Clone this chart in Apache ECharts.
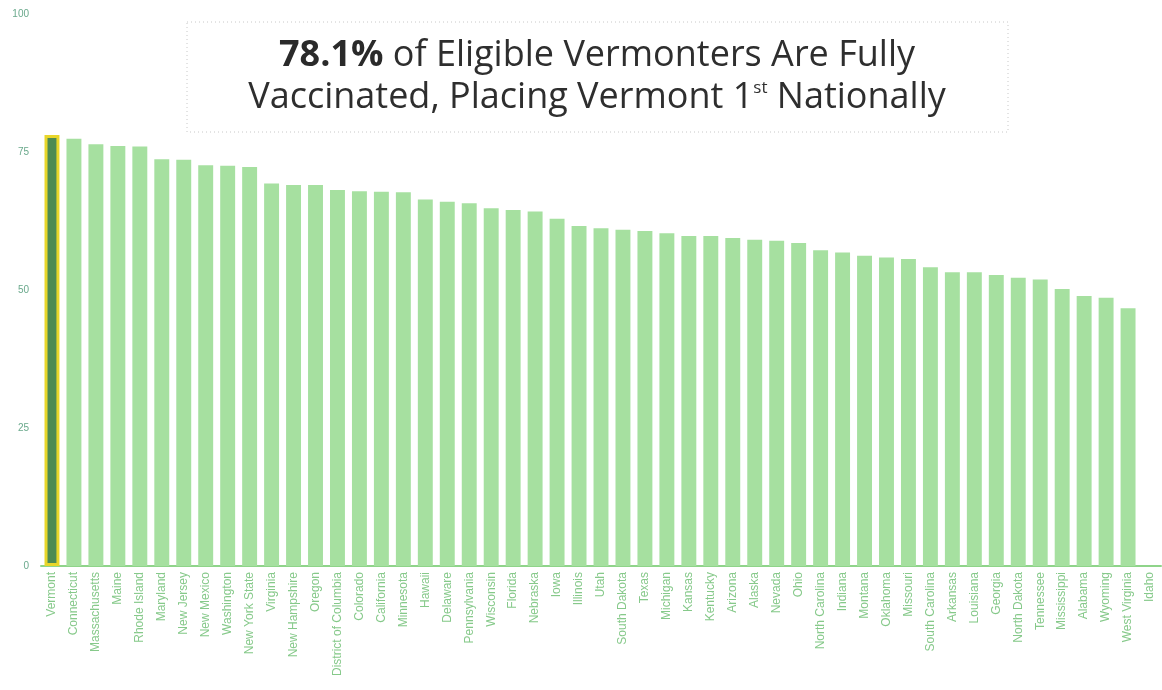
<!DOCTYPE html>
<html lang="en">
<head>
    <meta charset="UTF-8">
    <title>Vermont vaccination</title>
    <style>
        html, body { margin: 0; padding: 0; background: #fff; }
        #chart { width: 1162px; height: 690px; }
    </style>
</head>
<body>
    <div id="chart"></div>
    <script src="https://cdn.jsdelivr.net/npm/echarts@6/dist/echarts.min.js"></script>
    <script>
        // states, sorted by share fully vaccinated
        const states = ['Vermont', 'Connecticut', 'Massachusetts', 'Maine', 'Rhode Island', 'Maryland',
            'New Jersey', 'New Mexico', 'Washington', 'New York State', 'Virginia', 'New Hampshire',
            'Oregon', 'District of Columbia', 'Colorado', 'California', 'Minnesota', 'Hawaii',
            'Delaware', 'Pennsylvania', 'Wisconsin', 'Florida', 'Nebraska', 'Iowa', 'Illinois',
            'Utah', 'South Dakota', 'Texas', 'Michigan', 'Kansas', 'Kentucky', 'Arizona', 'Alaska',
            'Nevada', 'Ohio', 'North Carolina', 'Indiana', 'Montana', 'Oklahoma', 'Missouri',
            'South Carolina', 'Arkansas', 'Louisiana', 'Georgia', 'North Dakota', 'Tennessee',
            'Mississippi', 'Alabama', 'Wyoming', 'West Virginia', 'Idaho'];
        const values = [78.1, 77.4, 76.4, 76.1, 76.0, 73.7,
            73.6, 72.6, 72.5, 72.3, 69.3, 69.0,
            69.0, 68.1, 67.9, 67.8, 67.7, 66.4,
            66.0, 65.7, 64.8, 64.5, 64.2, 62.9, 61.6,
            61.2, 60.9, 60.7, 60.3, 59.8, 59.8, 59.4, 59.1,
            58.9, 58.5, 57.2, 56.8, 56.2, 55.9, 55.6,
            54.1, 53.2, 53.2, 52.7, 52.2, 51.9,
            50.2, 48.9, 48.6, 46.7, null];
        const yTicks = [0, 25, 50, 75, 100];

        const highlight = 'Vermont';

        var chart = echarts.init(document.getElementById('chart'));
        var option = {
            animation: false,
            backgroundColor: '#ffffff',
            grid: { left: 41, right: 1, top: 14, bottom: 124 },
            xAxis: {
                type: 'category',
                data: states,
                axisLine: { lineStyle: { color: '#8fd48a', width: 2 } },
                axisTick: { show: false },
                axisLabel: {
                    rotate: 90,
                    interval: 0,
                    fontSize: 12,
                    fontFamily: 'Liberation Sans',
                    color: '#86c98a',
                    margin: 6
                }
            },
            yAxis: {
                type: 'value',
                min: yTicks[0],
                max: yTicks[yTicks.length - 1],
                interval: 25,
                splitLine: { show: false },
                axisLine: { show: false },
                axisTick: { show: false },
                axisLabel: {
                    fontSize: 10,
                    fontFamily: 'Liberation Sans',
                    color: '#6aa98c',
                    margin: 12
                }
            },
            series: [{
                type: 'bar',
                barCategoryGap: '32%',
                data: values.map((v, i) => states[i] === highlight ? {
                    value: v,
                    itemStyle: { color: '#4d8a52', borderColor: '#e8d62a', borderWidth: 3 }
                } : v),
                itemStyle: { color: '#a6e0a0' }
            }],
            graphic: [{
                type: 'rect',
                shape: { x: 187, y: 22, width: 821, height: 110 },
                style: { fill: 'none', stroke: '#c8c8c8', lineWidth: 1, lineDash: [1, 3] }
            }, {
                type: 'text',
                x: 597,
                y: 77,
                style: {
                    text: '{b|78.1%}{n| of Eligible Vermonters Are Fully}\n{n|Vaccinated, Placing Vermont 1}{s|st}{n| Nationally}',
                    align: 'center',
                    verticalAlign: 'middle',
                    fill: '#2e2e2e',
                    rich: {
                        b: { fontSize: 36, fontWeight: 'bold', fontFamily: 'Open Sans', lineHeight: 42, fill: '#2a2a2a' },
                        n: { fontSize: 36, fontFamily: 'Open Sans', lineHeight: 42, fill: '#2e2e2e' },
                        s: { fontSize: 17, fontFamily: 'Open Sans', lineHeight: 42, verticalAlign: 'top', padding: [3, 0, 0, 0], fill: '#2e2e2e' }
                    }
                }
            }]
        };
        chart.setOption(option);
    </script>
</body>
</html>
